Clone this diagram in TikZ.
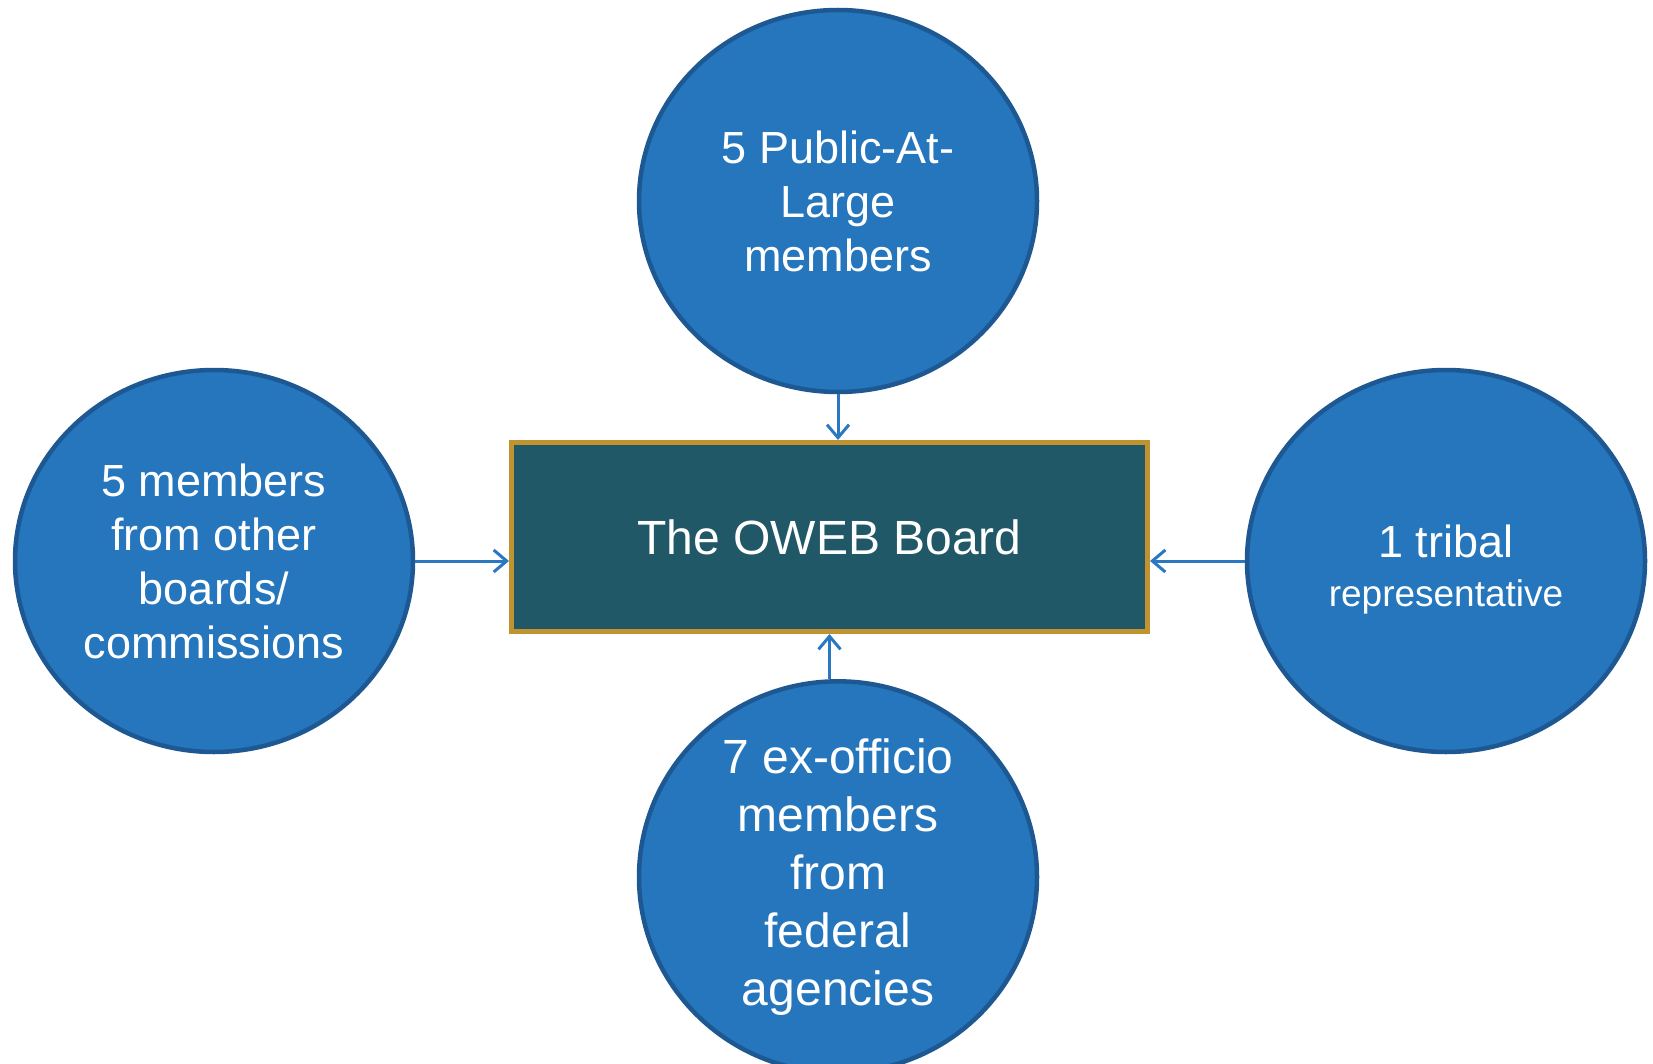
\documentclass[tikz,border=0pt]{standalone}
\usepackage{fontspec}
\setmainfont{Liberation Sans}
\usetikzlibrary{shapes.geometric,arrows.meta}
\definecolor{circfill}{HTML}{2576BC}
\definecolor{circline}{HTML}{1D5893}
\definecolor{boardfill}{HTML}{215868}
\definecolor{boardline}{HTML}{C09230}
\definecolor{arrcol}{HTML}{2A78C2}
\tikzset{
  member/.style={ellipse, draw=circline, line width=4.5pt, fill=circfill,
    minimum width=398pt, minimum height=382pt, inner sep=0pt,
    text=white, align=center, font=\fontsize{45}{54}\selectfont},
  boardbox/.style={rectangle, draw=boardline, line width=5pt, fill=boardfill,
    minimum width=636pt, minimum height=189pt, text=white,
    font=\fontsize{48}{58}\selectfont},
  feed/.style={draw=arrcol, line width=3pt, -{Straight Barb[length=13pt,width=22pt,line width=3pt]}}
}
\begin{document}
\begin{tikzpicture}[x=1pt,y=-1pt]
\useasboundingbox (0,0) rectangle (1653,1064);
\clip (0,0) rectangle (1653,1064);
\node[boardbox] (board) at (829.5,537) {The OWEB Board};
\node[member] (top) at (838,201) {5 Public-At-\\Large\\members};
\node[member] (left) at (214,561) {5 members\\from other\\boards/\\commissions};
\node[member] (right) at (1446,561) {\rule{0pt}{49pt}1 tribal\\[-5pt]{\fontsize{37}{44}\selectfont representative}};
\node[member, font=\fontsize{48}{58}\selectfont] (bot) at (838,877) {7 ex-officio\\members\\from\\federal\\agencies};
\draw[feed] (top.south) -- (top.south |- board.north);
\draw[feed] (left.east) -- (left.east -| board.west);
\draw[feed] (right.west) -- (right.west -| board.east);
\draw[feed] (board.south |- bot.north) -- (board.south);
\end{tikzpicture}
\end{document}
